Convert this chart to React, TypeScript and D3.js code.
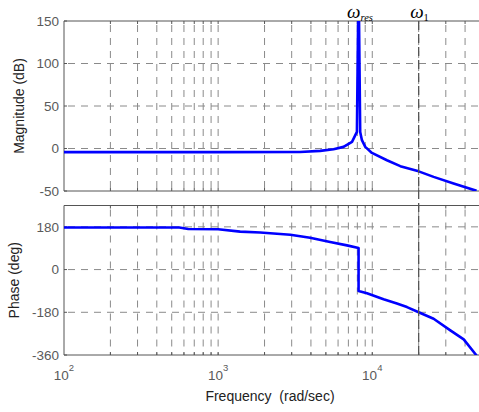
import React from 'react';
import * as d3 from 'd3';

// Frequency response of the resonant system (rad/sec, dB, deg)
const magFreq = [100, 1000, 3400, 4590, 5610, 6510, 7390, 7950, 8150, 8350, 8570, 9010, 9950, 12450, 15200, 20000, 25000, 33700, 47500];
const magDb = [-4.3, -4.3, -4.2, -2.8, -0.8, 1.9, 7.8, 19.5, 200, 19.5, 9.8, 1.9, -5.2, -13.8, -20.8, -26.9, -33.4, -41.2, -49.8];

const phaseFreq = [100, 560, 640, 1000, 1390, 1875, 2940, 3950, 5330, 6850, 8150, 8150, 9240, 11840, 14450, 16800, 20000, 25000, 32100, 39200, 47500];
const phaseDeg = [177, 177, 171, 170, 160, 156, 147, 134, 116, 102, 91, -90, -100, -125, -143, -158, -180, -207, -256, -294, -362];

const magTicks = [-50, 0, 50, 100, 150];
const phaseTicks = [-360, -180, 0, 180];
const decadeExponents = [2, 3, 4];

const omegaRes = 8150;
const omega1 = 20000;

const W = 479;
const H = 412;
const left = 64;
const right = 480;

const FRAME = '#555555';
const GRID = '#8a8a8a';
const TICKTXT = '#5a5a5a';
const FONT = 'Liberation Sans, Arial, Helvetica, sans-serif';
const SERIF = 'Liberation Serif, Times New Roman, serif';

export default function App() {
  const x = d3.scaleLog().domain([100, 50000]).range([left, right]);
  const yMag = d3.scaleLinear().domain([-50, 150]).range([191, 21]);
  const yPh = d3.scaleLinear().domain([-360, 270]).range([355, 205.5]);

  const gridX = x.ticks().filter((t) => t > 100 && t < 50000);

  const magLine = d3
    .line<number>()
    .x((_, i) => x(magFreq[i]))
    .y((d) => yMag(d));
  const phLine = d3
    .line<number>()
    .x((_, i) => x(phaseFreq[i]))
    .y((d) => yPh(d));

  const panel = (
    id: string,
    y: d3.ScaleLinear<number, number>,
    ticks: number[],
    path: string | null
  ) => {
    const [y0, y1] = y.range(); // bottom, top
    return (
      <g>
        <defs>
          <clipPath id={id}>
            <rect x={left} y={y1} width={right - left} height={y0 - y1} />
          </clipPath>
        </defs>
        {/* dashed grid */}
        {gridX.map((t) => (
          <line
            key={'gx' + t}
            x1={x(t)}
            x2={x(t)}
            y1={y1}
            y2={y0}
            stroke={GRID}
            strokeWidth={1}
            strokeDasharray="7,6"
            strokeDashoffset={-4}
          />
        ))}
        {ticks
          .filter((t) => y(t) > y1 + 0.5 && y(t) < y0 - 0.5)
          .map((t) => (
            <line
              key={'gy' + t}
              x1={left}
              x2={right}
              y1={y(t)}
              y2={y(t)}
              stroke={GRID}
              strokeWidth={1}
              strokeDasharray="7,6"
              strokeDashoffset={-4}
            />
          ))}
        {/* inward ticks */}
        {gridX.map((t) => (
          <g key={'tk' + t}>
            <line x1={x(t)} x2={x(t)} y1={y1} y2={y1 + 3} stroke={FRAME} />
            <line x1={x(t)} x2={x(t)} y1={y0} y2={y0 - 3} stroke={FRAME} />
          </g>
        ))}
        {ticks.map((t) => (
          <line key={'ty' + t} x1={left} x2={left + 3} y1={y(t)} y2={y(t)} stroke={FRAME} />
        ))}
        {/* frame */}
        <line x1={left} x2={W} y1={y1} y2={y1} stroke={FRAME} strokeWidth={1} />
        <line x1={left} x2={W} y1={y0} y2={y0} stroke={FRAME} strokeWidth={1} />
        <line x1={left} x2={left} y1={y1} y2={y0} stroke={FRAME} strokeWidth={1} />
        {/* tick labels */}
        {ticks.map((t) => (
          <text
            key={'yl' + t}
            x={left - 5}
            y={y(t)}
            dy="0.36em"
            textAnchor="end"
            fontSize={13.5}
            fill={TICKTXT}
            fontFamily={FONT}
          >
            {t}
          </text>
        ))}
        {path && (
          <path
            d={path}
            fill="none"
            stroke="#0000ff"
            strokeWidth={2.6}
            strokeLinejoin="round"
            clipPath={`url(#${id})`}
          />
        )}
      </g>
    );
  };

  return (
    <svg
      width={W}
      height={H}
      style={{ position: 'absolute', left: 0, top: 0, background: '#ffffff' }}
    >
      <rect x={0} y={0} width={W} height={H} fill="#ffffff" />
      {panel('clipMag', yMag, magTicks, magLine(magDb))}
      {panel('clipPh', yPh, phaseTicks, phLine(phaseDeg))}

      {/* omega_1 marker */}
      <line
        x1={x(omega1)}
        x2={x(omega1)}
        y1={yMag(150)}
        y2={yPh(-360)}
        stroke="#555555"
        strokeWidth={1.3}
        strokeDasharray="9,4"
      />

      {/* x tick labels */}
      {decadeExponents.map((e) => (
        <text
          key={'xl' + e}
          x={x(Math.pow(10, e))}
          y={380}
          textAnchor="middle"
          fontSize={13.5}
          fill={TICKTXT}
          fontFamily={FONT}
        >
          10
          <tspan dy={-9} fontSize={9.5}>
            {e}
          </tspan>
        </text>
      ))}

      {/* axis titles */}
      <text
        x={270}
        y={401}
        textAnchor="middle"
        fontSize={14}
        fill="#222"
        fontFamily={FONT}
        style={{ whiteSpace: 'pre' }}
      >
        {'Frequency  (rad/sec)'}
      </text>
      <text
        transform={`translate(24,${(yMag(150) + yMag(-50)) / 2}) rotate(-90)`}
        textAnchor="middle"
        fontSize={14}
        fill="#222"
        fontFamily={FONT}
      >
        Magnitude (dB)
      </text>
      <text
        transform={`translate(19,${(yPh(270) + yPh(-360)) / 2}) rotate(-90)`}
        textAnchor="middle"
        fontSize={14}
        fill="#222"
        fontFamily={FONT}
      >
        Phase (deg)
      </text>

      {/* frequency markers */}
      <text x={x(omegaRes) - 11.5} y={17.5} fontFamily={SERIF} fontStyle="italic" fill="#000">
        <tspan fontSize={19}>ω</tspan>
        <tspan fontSize={10.5} dy={3}>res</tspan>
      </text>
      <text x={x(omega1) - 8.5} y={17.5} fontFamily={SERIF} fontStyle="italic" fill="#000">
        <tspan fontSize={19}>ω</tspan>
        <tspan fontSize={10.5} dy={3} fontStyle="normal">1</tspan>
      </text>
    </svg>
  );
}
